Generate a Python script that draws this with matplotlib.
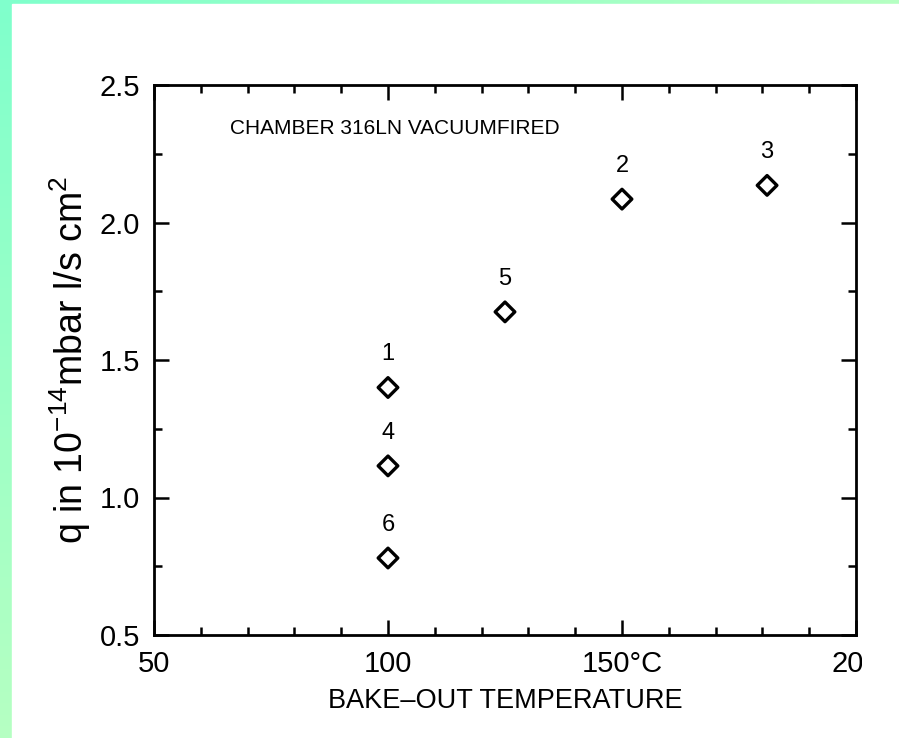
import numpy as np
import matplotlib.pyplot as plt
from matplotlib.ticker import MultipleLocator
from matplotlib.transforms import Bbox

# data
run_ids = ["1", "4", "6", "5", "2", "3"]
bake_temp = [100, 100, 100, 125, 150, 181]
q_value = [1.40, 1.115, 0.78, 1.675, 2.085, 2.135]

x_ticks = [50, 100, 150, 200]
x_ticklabels = ["50", "100", "150°C", "200"]
y_ticks = [0.5, 1.0, 1.5, 2.0, 2.5]
y_ticklabels = ["0.5", "1.0", "1.5", "2.0", "2.5"]

TEXT_FONT = ["Liberation Sans", "DejaVu Sans"]
plt.rcParams["mathtext.fontset"] = "custom"
plt.rcParams["mathtext.rm"] = "Liberation Sans"
plt.rcParams["mathtext.it"] = "Liberation Sans:italic"

W, H = 899, 738
fig = plt.figure(figsize=(W / 100, H / 100), dpi=100)

# gradient frame (left and top strips)
bg = fig.add_axes([0, 0, 1, 1])
ny, nx = 64, 64
yy, xx = np.mgrid[0:1:ny * 1j, 0:1:nx * 1j]
t = np.clip((yy + xx) / 1.2, 0, 1)
c0 = np.array([0x80, 0xFF, 0xCC]) / 255
c1 = np.array([0xC0, 0xFF, 0xC0]) / 255
img = c0[None, None, :] * (1 - t[..., None]) + c1[None, None, :] * t[..., None]
bg.imshow(img, extent=[0, 1, 0, 1], aspect="auto", origin="upper")
bg.add_patch(plt.Rectangle((12 / W, 0), 1, 1 - 4 / H, color="white"))
bg.set_xlim(0, 1)
bg.set_ylim(0, 1)
bg.axis("off")

ax = fig.add_axes([154 / W, 1 - 635 / H, (856 - 154) / W, (635 - 85) / H])
ax.scatter(bake_temp, q_value, marker="D", s=100, facecolors="none",
           edgecolors="black", linewidths=2.4, zorder=3)
for lbl, xv, yv in zip(run_ids, bake_temp, q_value):
    ax.annotate(lbl, (xv, yv), xytext=(0, 19.5), textcoords="offset points",
                ha="center", va="baseline", fontsize=17, family=TEXT_FONT)

ax.text(0.108, 0.92, "CHAMBER 316LN VACUUMFIRED", transform=ax.transAxes,
        fontsize=15, family=TEXT_FONT, ha="left", va="center")

ax.set_xlim(50, 200)
ax.set_ylim(0.5, 2.5)
ax.set_xticks(x_ticks)
ax.set_xticklabels(x_ticklabels, family=TEXT_FONT, fontsize=21)
ax.set_yticks(y_ticks)
ax.set_yticklabels(y_ticklabels, family=TEXT_FONT, fontsize=21)
ax.xaxis.set_minor_locator(MultipleLocator(10))
ax.yaxis.set_minor_locator(MultipleLocator(0.25))
ax.tick_params(which="both", direction="in", top=True, right=True, width=1.8)
ax.tick_params(which="major", length=11)
ax.tick_params(which="minor", length=6)
ax.tick_params(axis="x", pad=11)
ax.tick_params(axis="y", pad=10)
for sp in ax.spines.values():
    sp.set_linewidth(2)

ax.set_xlabel("BAKE\u2013OUT TEMPERATURE", fontsize=19.5, family=TEXT_FONT, labelpad=7)
ax.set_ylabel("q in 10$^{-14}$mbar l/s cm$^2$", fontsize=27, family=TEXT_FONT,
              labelpad=5)

# the scan cuts the last tick label at the right edge
last = ax.get_xticklabels()[-1]
last.set_clip_box(Bbox.from_extents(0, 0, 862, H))
last.set_clip_on(True)

fig.savefig("out.png", dpi=100)
